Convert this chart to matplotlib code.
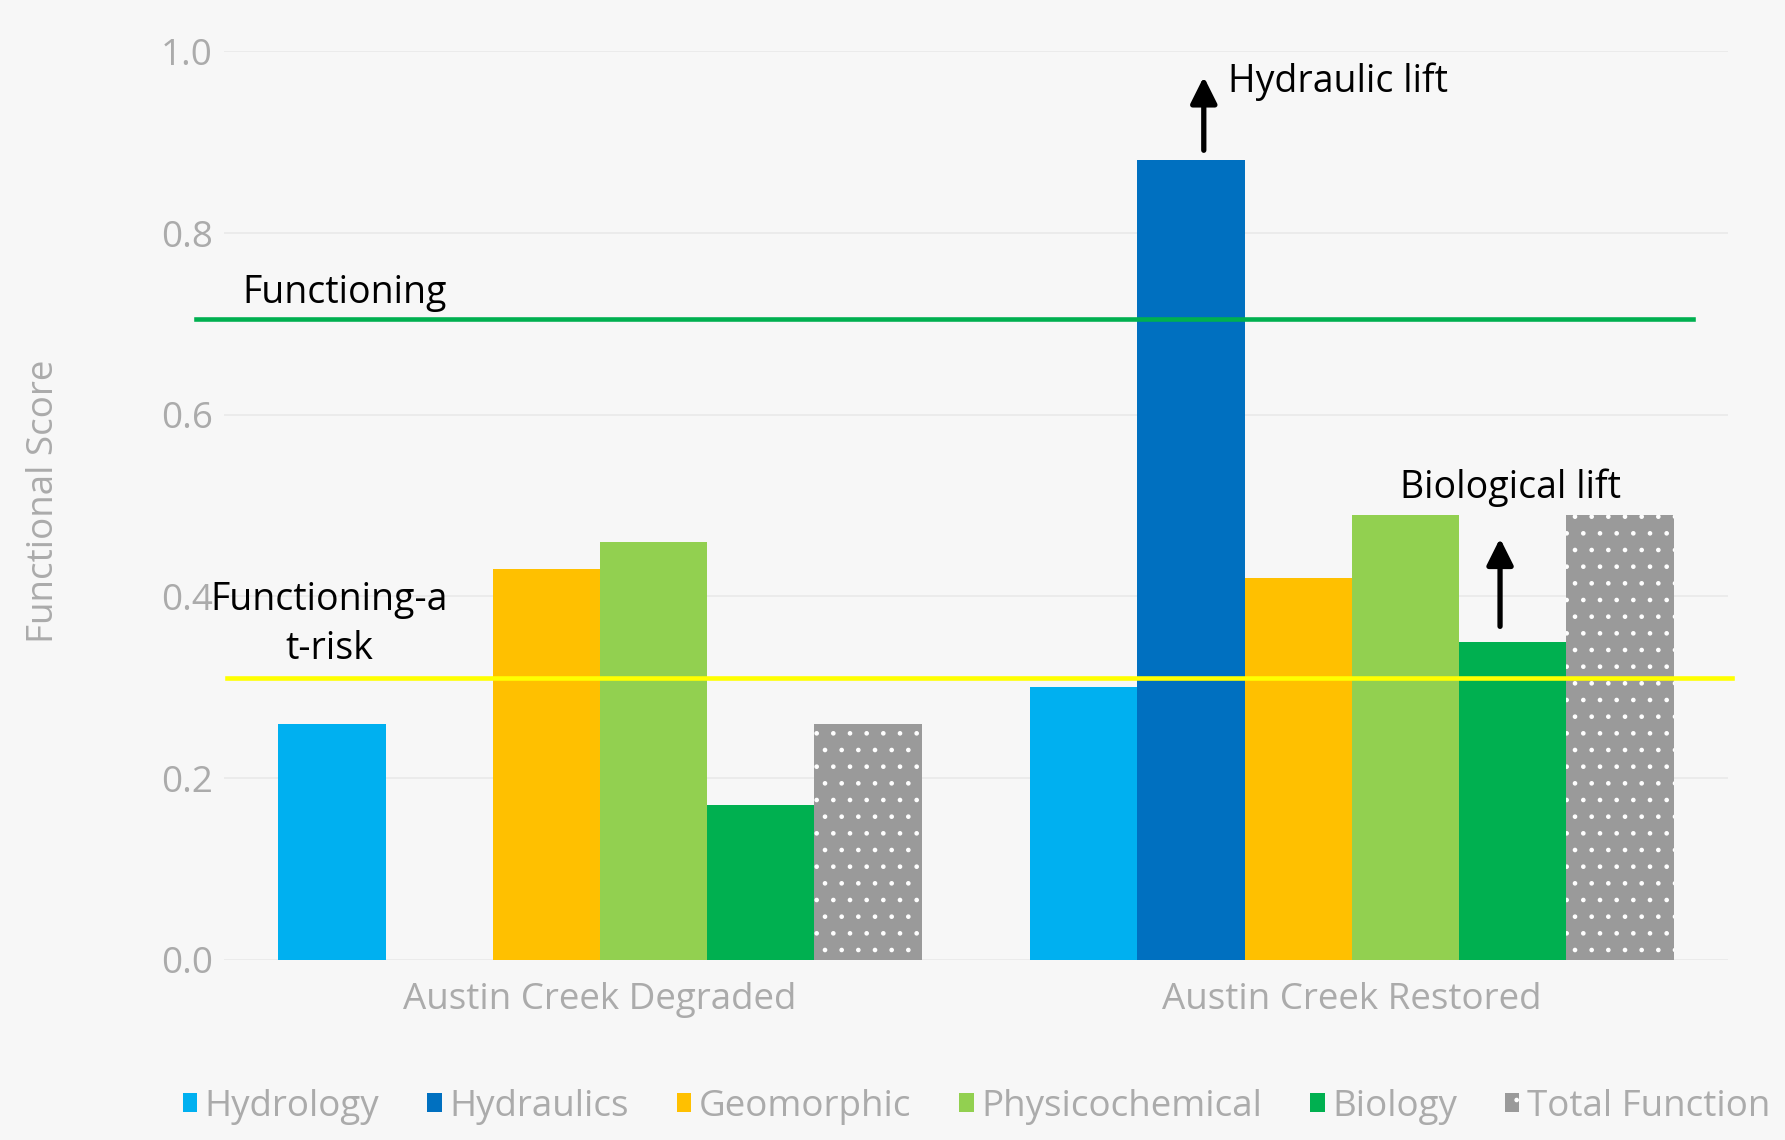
import matplotlib.pyplot as plt
import numpy as np

plt.rcParams['hatch.color'] = 'white'
plt.rcParams['hatch.linewidth'] = 0.9

groups = ['Austin Creek Degraded', 'Austin Creek Restored']
series = ['Hydrology', 'Hydraulics', 'Geomorphic', 'Physicochemical', 'Biology', 'Total Function']
hydrology = [0.26, 0.30]
hydraulics = [0.0, 0.88]
geomorphic = [0.43, 0.42]
physicochemical = [0.46, 0.49]
biology = [0.17, 0.35]
total_function = [0.26, 0.49]
functioning = 0.705
at_risk = 0.31

colors = ['#00B0F0', '#0070C0', '#FFC000', '#92D050', '#00B050', '#9A9A9A']
values = [hydrology, hydraulics, geomorphic, physicochemical, biology, total_function]

tick_col = '#ababab'
bg = '#f7f7f7'
fs = 26.5

fig = plt.figure(figsize=(17.85, 11.4), dpi=100, facecolor=bg)
ax = fig.add_axes([0.1255, 0.158, 0.8425, 0.797])
ax.set_facecolor(bg)

x = np.arange(len(groups))
w = 0.1426
for i, (name, vals) in enumerate(zip(series, values)):
    if name == 'Total Function':
        ax.bar(x + (i - 2.5) * w, vals, w, color=colors[i], label=name,
               hatch='.', edgecolor='white', linewidth=0, zorder=3)
    else:
        ax.bar(x + (i - 2.5) * w, vals, w, color=colors[i], label=name,
               linewidth=0, zorder=3)

ax.set_xlim(-0.5, 1.5)
ax.set_ylim(0, 1.0)
ax.set_yticks([0.0, 0.2, 0.4, 0.6, 0.8, 1.0])
ax.set_yticklabels(['0.0', '0.2', '0.4', '0.6', '0.8', '1.0'])
ax.set_xticks(x)
ax.set_xticklabels(groups)
ax.tick_params(length=0, colors=tick_col, labelsize=fs, pad=16)
ax.tick_params(axis='y', pad=8)
for lab in ax.get_xticklabels() + ax.get_yticklabels():
    lab.set_fontfamily('Open Sans')
ax.set_ylabel('Functional Score', fontsize=fs, color=tick_col, family='Open Sans')
ax.yaxis.set_label_coords(-0.108, 0.505)
for s in ax.spines.values():
    s.set_visible(False)
ax.yaxis.grid(True, color='#e9e9e9', linewidth=1.2, zorder=0)
ax.set_axisbelow(True)

# threshold lines
ax.plot([-0.537, 1.454], [functioning, functioning], color='#00B050', lw=3.3, clip_on=False, zorder=5)
ax.plot([-0.496, 1.506], [at_risk, at_risk], color='#FFFF00', lw=3.3, clip_on=False, zorder=5)
ax.text(-0.34, functioning + 0.008, 'Functioning', fontsize=27, family='Open Sans',
        ha='center', va='bottom', zorder=6)
ax.text(-0.36, 0.369, 'Functioning-a\nt-risk', fontsize=27, family='Open Sans',
        ha='center', va='center', linespacing=1.4, zorder=6)

# lift arrows
ax.annotate('', xy=(0.803, 0.975), xytext=(0.803, 0.888),
            arrowprops=dict(arrowstyle='-|>', color='black', lw=3.8, mutation_scale=40), zorder=6)
ax.text(0.835, 0.966, 'Hydraulic lift', fontsize=27, family='Open Sans', va='center', zorder=6)
ax.annotate('', xy=(1.197, 0.467), xytext=(1.197, 0.364),
            arrowprops=dict(arrowstyle='-|>', color='black', lw=3.8, mutation_scale=40), zorder=6)
ax.text(1.211, 0.52, 'Biological lift', fontsize=27, family='Open Sans', ha='center', va='center', zorder=6)

leg = fig.legend(loc='center', bbox_to_anchor=(0.547, 0.029), ncol=6, frameon=False,
                 handlelength=0.4, handleheight=0.4, handletextpad=0.2,
                 columnspacing=1.3, prop={'family': 'Open Sans', 'size': fs})
for t in leg.get_texts():
    t.set_color(tick_col)

fig.savefig('out.png', dpi=100, facecolor=bg)
